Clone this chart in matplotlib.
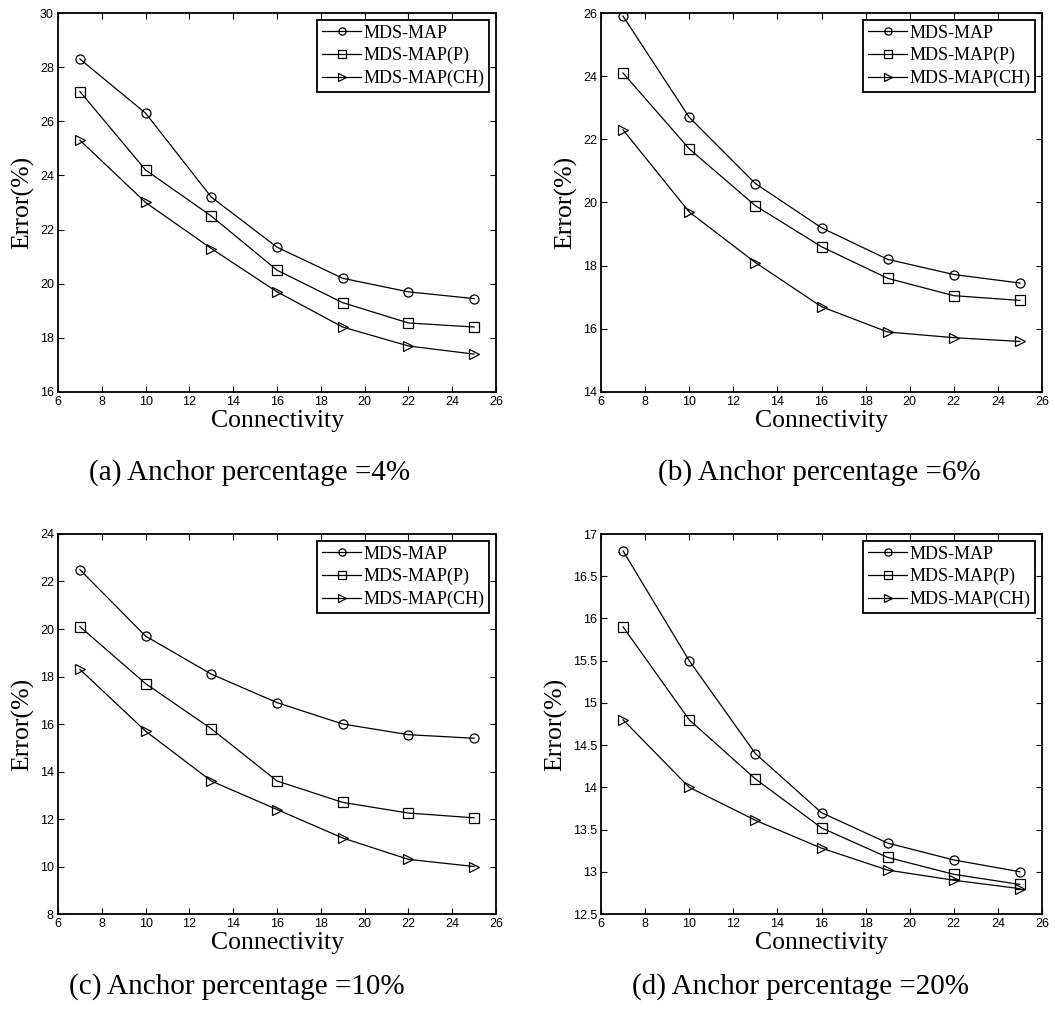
import matplotlib
matplotlib.use("Agg")
import matplotlib.pyplot as plt

# connectivity values on the x axis
connectivity = [7, 10, 13, 16, 19, 22, 25]
series_names = ["MDS-MAP", "MDS-MAP(P)", "MDS-MAP(CH)"]

# (a) anchor 4%
err_a_mds = [28.3, 26.3, 23.2, 21.35, 20.2, 19.7, 19.45]
err_a_p = [27.1, 24.2, 22.5, 20.5, 19.3, 18.55, 18.4]
err_a_ch = [25.3, 23.0, 21.3, 19.7, 18.4, 17.7, 17.4]

# (b) anchor 6%
err_b_mds = [25.9, 22.7, 20.6, 19.2, 18.2, 17.72, 17.45]
err_b_p = [24.1, 21.7, 19.9, 18.6, 17.6, 17.05, 16.9]
err_b_ch = [22.3, 19.7, 18.1, 16.7, 15.9, 15.72, 15.6]

# (c) anchor 10%
err_c_mds = [22.5, 19.7, 18.1, 16.9, 16.0, 15.55, 15.4]
err_c_p = [20.1, 17.7, 15.8, 13.6, 12.7, 12.25, 12.05]
err_c_ch = [18.3, 15.7, 13.6, 12.4, 11.2, 10.3, 10.0]

# (d) anchor 20%
err_d_mds = [16.8, 15.5, 14.4, 13.7, 13.34, 13.14, 13.0]
err_d_p = [15.9, 14.8, 14.1, 13.52, 13.17, 12.97, 12.85]
err_d_ch = [14.8, 14.0, 13.61, 13.28, 13.02, 12.9, 12.8]

captions = ["(a) Anchor percentage =4%", "(b) Anchor percentage =6%",
            "(c) Anchor percentage =10%", "(d) Anchor percentage =20%"]
y_limits = [(16, 30), (14, 26), (8, 24), (12.5, 17)]
y_steps = [2, 2, 2, 0.5]

panels = [
    (err_a_mds, err_a_p, err_a_ch),
    (err_b_mds, err_b_p, err_b_ch),
    (err_c_mds, err_c_p, err_c_ch),
    (err_d_mds, err_d_p, err_d_ch),
]

SERIF = "Liberation Serif"
SANS = "Liberation Sans"
W, H = 1055, 1013

fig = plt.figure(figsize=(W / 100, H / 100), dpi=100)

# axes boxes in pixels: left, top, right, bottom
boxes = [(58, 13, 496, 392), (601, 13, 1042, 392),
         (58, 534, 496, 914), (601, 534, 1042, 914)]
caption_pos = [(250, 473), (819, 473), (237, 987), (800, 987)]
markers = ["o", "s", ">"]

for i, (l, t, r, b) in enumerate(boxes):
    ax = fig.add_axes([l / W, 1 - b / H, (r - l) / W, (b - t) / H])
    for vals, name, m in zip(panels[i], series_names, markers):
        ax.plot(connectivity, vals, color="black", lw=0.9, marker=m,
                markersize=7 if m != "o" else 6.5, markerfacecolor="none",
                markeredgecolor="black", markeredgewidth=0.9, label=name)
    ax.set_xlim(6, 26)
    ax.set_xticks(range(6, 27, 2))
    lo, hi = y_limits[i]
    ax.set_ylim(lo, hi)
    step = y_steps[i]
    ticks = []
    v = lo
    while v <= hi + 1e-9:
        ticks.append(v)
        v += step
    ax.set_yticks(ticks)
    if step < 1:
        ax.set_yticklabels([("%g" % tk) for tk in ticks])
    ax.tick_params(direction="in", top=True, right=True, length=4, width=0.8,
                   labelsize=9, pad=3)
    for lab in ax.get_xticklabels() + ax.get_yticklabels():
        lab.set_fontfamily(SANS)
    for sp in ax.spines.values():
        sp.set_linewidth(1.3)
    ax.set_xlabel("Connectivity", fontfamily=SERIF, fontsize=18.5, labelpad=1)
    ax.set_ylabel("Error(%)", fontfamily=SERIF, fontsize=18.5, labelpad=4)
    leg = ax.legend(loc="upper right", prop={"family": SERIF, "size": 13},
                    fancybox=False, edgecolor="black", framealpha=1,
                    borderpad=0.25, labelspacing=0.3, handlelength=2.2,
                    handletextpad=0.1, borderaxespad=0.4, markerscale=0.8)
    leg.get_frame().set_linewidth(1.3)
    cx, cy = caption_pos[i]
    fig.text(cx / W, 1 - cy / H, captions[i], ha="center", va="center",
             fontfamily=SERIF, fontsize=21)

fig.savefig("out.png", dpi=100)
